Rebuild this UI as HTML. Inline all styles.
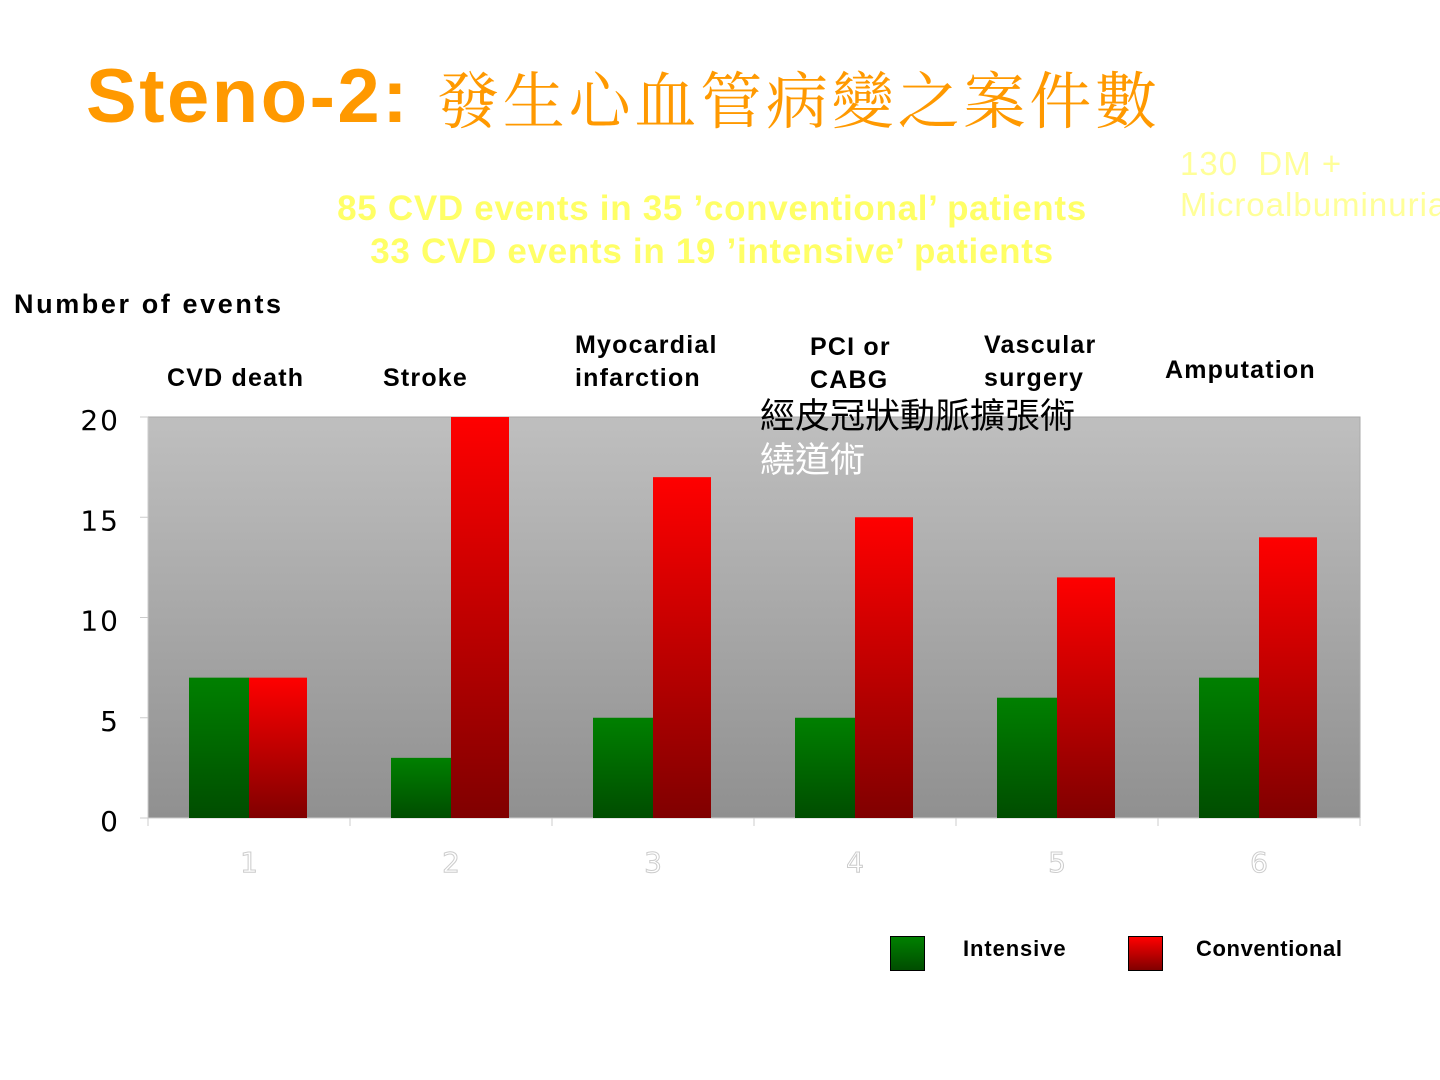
<!DOCTYPE html>
<html><head><meta charset="utf-8"><style>
body{margin:0;width:1440px;height:1080px;background:#fff;position:relative;overflow:hidden;font-family:"Liberation Sans","Noto Sans CJK TC",sans-serif}
.a{position:absolute;white-space:nowrap}
.lab{font-size:25px;font-weight:bold;color:#000;line-height:33px;letter-spacing:1.2px}
</style></head><body>
<div class="a" style="left:86px;top:52px;color:#f90;line-height:90px">
<span style="font-size:76px;font-weight:bold;letter-spacing:2.5px">Steno-2:</span></div>
<div class="a" style="left:437px;top:52px;color:#f90;line-height:90px;font-family:'Noto Serif CJK SC','Noto Serif CJK TC',serif;font-size:62px;letter-spacing:3.8px">發生心血管病變之案件數</div>
<div class="a" style="left:212px;width:1000px;top:187px;text-align:center;color:#ffff66;font-size:35px;font-weight:bold;line-height:43px;letter-spacing:0.7px">85 CVD events in 35 ’conventional’ patients<br>33 CVD events in 19 ’intensive’ patients</div>
<div class="a" style="left:1180px;top:143px;color:#ffff99;font-size:33px;line-height:41px;letter-spacing:1px">130&nbsp; DM +<br>Microalbuminuria</div>
<div class="a lab" style="left:14px;top:288px;font-size:27px;letter-spacing:2.6px">Number of events</div>
<div class="a lab" style="left:167px;top:362px">CVD death</div>
<div class="a lab" style="left:383px;top:362px">Stroke</div>
<div class="a lab" style="left:575px;top:329px">Myocardial<br>infarction</div>
<div class="a lab" style="left:810px;top:331px">PCI or<br>CABG</div>
<div class="a lab" style="left:984px;top:329px">Vascular<br>surgery</div>
<div class="a lab" style="left:1165px;top:354px">Amputation</div>
<svg class="a" style="left:0;top:0" width="1440" height="1080">
<defs>
<linearGradient id="bg" x1="0" y1="0" x2="0" y2="1"><stop offset="0" stop-color="#bfbfbf"/><stop offset="1" stop-color="#909090"/></linearGradient>
<linearGradient id="gg" x1="0" y1="0" x2="0" y2="1"><stop offset="0" stop-color="#008000"/><stop offset="1" stop-color="#004d00"/></linearGradient>
<linearGradient id="rg" x1="0" y1="0" x2="0" y2="1"><stop offset="0" stop-color="#ff0000"/><stop offset="1" stop-color="#800000"/></linearGradient>
</defs>
<g id="chart"></g>
</svg>
<div class="a" style="left:760px;top:392px;font-family:'Noto Sans CJK TC',sans-serif;font-size:35px;line-height:44px;color:#000">經皮冠狀動脈擴張術<br><span style="color:#fff">繞道術</span></div>
<div class="a" style="left:890px;top:936px;width:33px;height:33px;border:1px solid #000;background:linear-gradient(#008000,#004d00)"></div>
<div class="a lab" style="left:963px;top:932px;font-size:22px;letter-spacing:0.9px">Intensive</div>
<div class="a" style="left:1128px;top:936px;width:33px;height:33px;border:1px solid #000;background:linear-gradient(#ff0000,#800000)"></div>
<div class="a lab" style="left:1196px;top:932px;font-size:22px;letter-spacing:0.6px">Conventional</div>
<script>
const categories=["1","2","3","4","5","6"];
const intensive=[7,3,5,5,6,7];
const conventional=[7,20,17,15,12,14];
const yTicks=[0,5,10,15,20];
const NS="http://www.w3.org/2000/svg";
const g=document.getElementById('chart');
const X0=148,X1=1360,Y0=818,Y1=417,YMAX=20;
const gw=(X1-X0)/categories.length;
function y(v){return Y0-(v/YMAX)*(Y0-Y1);}
function xg(i){return X0+i*gw;}
function mk(t,a){const e=document.createElementNS(NS,t);for(const k in a)e.setAttribute(k,a[k]);g.appendChild(e);return e;}
const bg=mk('rect',{x:X0,y:Y1,width:X1-X0,height:Y0-Y1,fill:'url(#bg)',stroke:'#aaa'});


mk('line',{x1:X0,y1:Y1,x2:X0,y2:Y0,stroke:'#ccc'});
mk('line',{x1:X0,y1:Y0,x2:X1,y2:Y0,stroke:'#ccc'});
yTicks.forEach(v=>{
 mk('line',{x1:X0-8,x2:X0,y1:y(v),y2:y(v),stroke:'#ccc'});
 const t=mk('text',{x:120,y:y(v)+13,'text-anchor':'end','font-family':'DejaVu Sans,sans-serif','font-size':28,'letter-spacing':2,fill:'#000'});
 t.textContent=v;
 
 
});
categories.forEach((c,i)=>{
 mk('line',{x1:xg(i),x2:xg(i),y1:Y0,y2:Y0+8,stroke:'#ccc'});
 if(i==categories.length-1)mk('line',{x1:X1,x2:X1,y1:Y0,y2:Y0+8,stroke:'#ccc'});
 const bw=60,off=41;
 const b1=mk('rect',{x:xg(i)+off,y:y(intensive[i]),width:bw,height:Y0-y(intensive[i]),fill:'url(#gg)'});
 
 
 const b2=mk('rect',{x:xg(i)+off+bw,y:y(conventional[i]),width:bw-2,height:Y0-y(conventional[i]),fill:'url(#rg)'});
 
 
 const t=mk('text',{x:xg(i)+gw/2,y:Y0+54,'text-anchor':'middle','font-family':'DejaVu Sans,sans-serif','font-size':28,fill:'#fff',stroke:'#ccc','stroke-width':1});
 t.textContent=c;
 
 
});
</script>
</body></html>
